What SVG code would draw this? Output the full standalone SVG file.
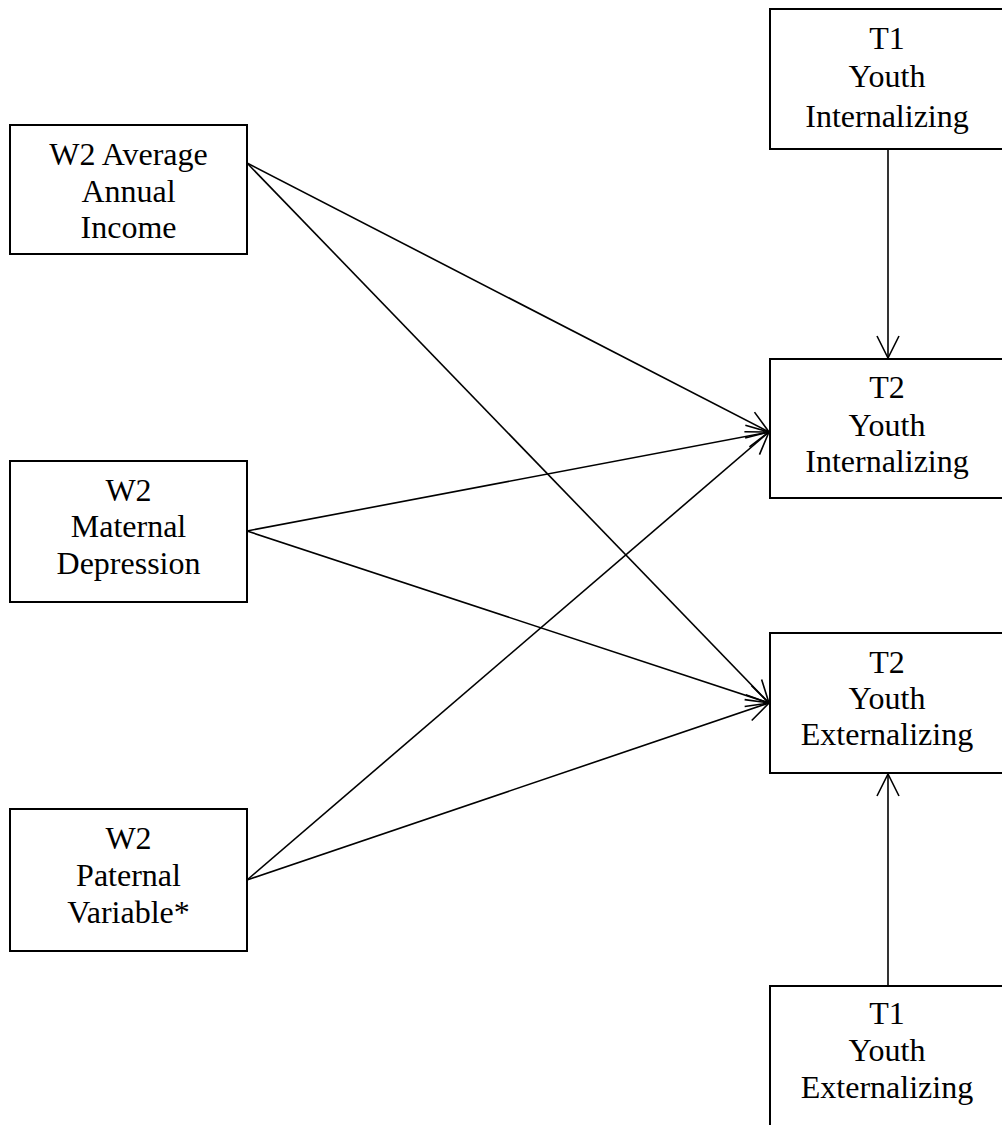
<svg xmlns="http://www.w3.org/2000/svg" width="1002" height="1125" viewBox="0 0 1002 1125">
<style>
.box{fill:#fff;stroke:#000;stroke-width:2}
.lbl{font-family:"Liberation Serif","Times New Roman",serif;font-size:32px;fill:#000;text-anchor:middle}
.edge{stroke:#000;stroke-width:1.6;fill:none;marker-end:url(#arr)}
</style>
<defs>
<marker id="arr" markerUnits="userSpaceOnUse" markerWidth="30" markerHeight="30" viewBox="-26 -14 30 28" refX="0" refY="0" orient="auto">
<path d="M-22,-11 L0,0 L-22,11" fill="none" stroke="#000" stroke-width="1.6"/>
</marker>
</defs>
<rect width="1002" height="1125" fill="#fff"/>
<g id="connectors">
<line class="edge" x1="247" y1="163" x2="769" y2="432"/>
<line class="edge" x1="247" y1="163" x2="769" y2="703"/>
<line class="edge" x1="247" y1="531" x2="769" y2="432"/>
<line class="edge" x1="247" y1="531" x2="769" y2="703"/>
<line class="edge" x1="247" y1="880" x2="769" y2="432"/>
<line class="edge" x1="247" y1="880" x2="769" y2="703"/>
<line class="edge" x1="888" y1="149" x2="888" y2="358"/>
<line class="edge" x1="888" y1="986" x2="888" y2="774"/>
</g>
<g id="income">
<rect class="box" x="10" y="125" width="237" height="129"/>
<text class="lbl" x="128.5" y="165">W2 Average</text>
<text class="lbl" x="128.5" y="202">Annual</text>
<text class="lbl" x="128.5" y="238">Income</text>
</g>
<g id="maternal">
<rect class="box" x="10" y="461" width="237" height="141"/>
<text class="lbl" x="128.5" y="501">W2</text>
<text class="lbl" x="128.5" y="537">Maternal</text>
<text class="lbl" x="128.5" y="574">Depression</text>
</g>
<g id="paternal">
<rect class="box" x="10" y="809" width="237" height="142"/>
<text class="lbl" x="128.5" y="849">W2</text>
<text class="lbl" x="128.5" y="886">Paternal</text>
<text class="lbl" x="128.5" y="923">Variable*</text>
</g>
<g id="t1int">
<rect class="box" x="770" y="9" width="240" height="140"/>
<text class="lbl" x="887" y="49">T1</text>
<text class="lbl" x="887" y="87">Youth</text>
<text class="lbl" x="887" y="127">Internalizing</text>
</g>
<g id="t2int">
<rect class="box" x="770" y="359" width="240" height="139"/>
<text class="lbl" x="887" y="398">T2</text>
<text class="lbl" x="887" y="436">Youth</text>
<text class="lbl" x="887" y="472">Internalizing</text>
</g>
<g id="t2ext">
<rect class="box" x="770" y="633" width="240" height="140"/>
<text class="lbl" x="887" y="673">T2</text>
<text class="lbl" x="887" y="709">Youth</text>
<text class="lbl" x="887" y="745">Externalizing</text>
</g>
<g id="t1ext">
<rect class="box" x="770" y="986" width="240" height="160"/>
<text class="lbl" x="887" y="1024">T1</text>
<text class="lbl" x="887" y="1061">Youth</text>
<text class="lbl" x="887" y="1098">Externalizing</text>
</g>
</svg>
